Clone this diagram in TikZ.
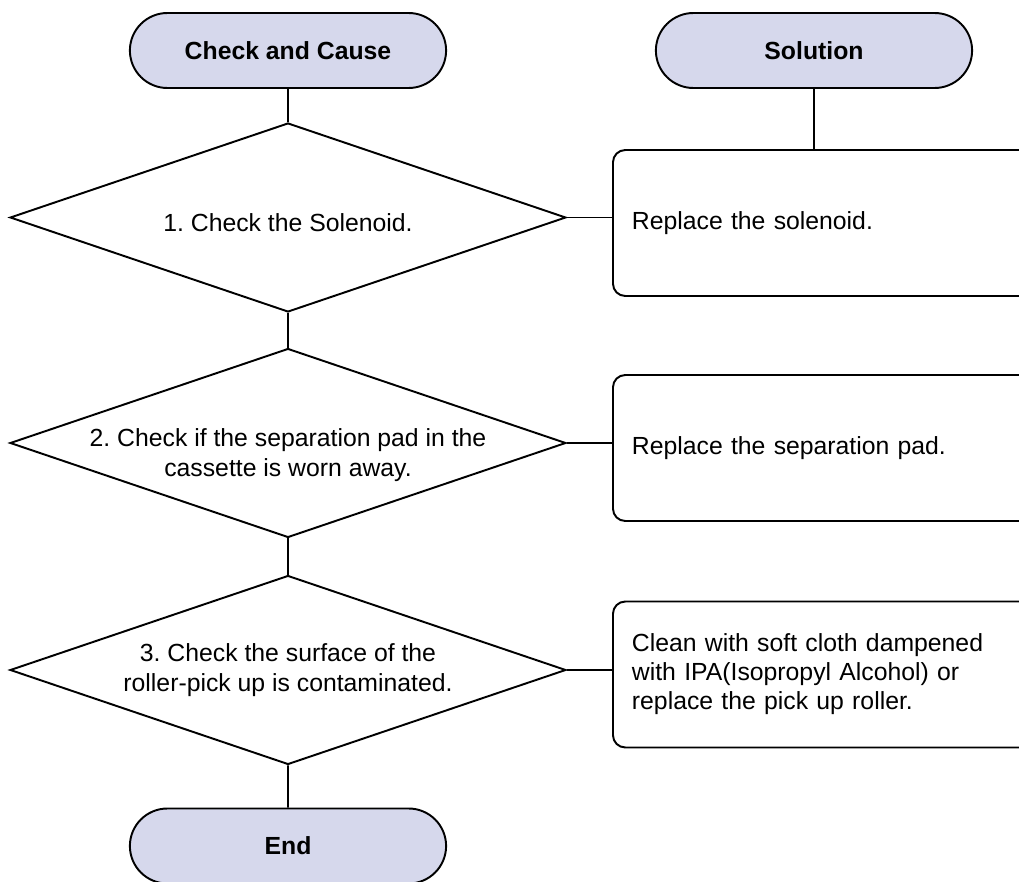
\documentclass[tikz,border=0pt]{standalone}
\usepackage{fontspec}
\setmainfont{Liberation Sans}
\usetikzlibrary{positioning,shapes.geometric,shapes.misc}
\definecolor{termfill}{HTML}{D6D8EC}

\begin{document}
\begin{tikzpicture}[x=0.02cm,y=-0.02cm,line width=1.1pt,every node/.style={font=\fontsize{14.1}{17}\selectfont\frenchspacing},terminal/.style={rounded rectangle,draw,fill=termfill,minimum width=6.56cm,minimum height=1.5cm,font=\fontsize{14.1}{17}\selectfont\bfseries},check/.style={diamond,draw,inner sep=0pt,aspect=2.942,minimum width=11.12cm,minimum height=3.78cm},checktext/.style={align=center,inner sep=0pt},fix/.style={rectangle,rounded corners=7pt,draw,anchor=west,minimum height=2.92cm,text width=7.8cm,inner xsep=0.38cm,align=left,font=\fontsize{14.1}{16.5}\selectfont\frenchspacing}]
  \clip (0,0) rectangle (1019,882);
  \node[terminal] (cause) at (288,50.5) {Check and Cause};
  \node[terminal] (solution) at (814,50.5) {Solution};
  \node[check,label={[checktext,yshift=-0.1cm]center:1. Check the Solenoid.}] (solenoid) at (288,217.5) {};
  \node[check,label={[checktext,yshift=-0.24cm]center:{2. Check if the separation pad in the\\cassette is worn away.}}] (pad) at (288,443) {};
  \node[check,label={[checktext]center:{3. Check the surface of the\\roller-pick up is contaminated.}}] (roller) at (288,670) {};
  \node[terminal] (finish) at (288,846) {End};
  \node[fix] (fixsolenoid) at (612,223) {Replace the solenoid.};
  \node[fix] (fixpad) at (612,448) {Replace the separation pad.};
  \node[fix] (fixroller) at (612,674.5) {Clean with soft cloth dampened\\with IPA(Isopropyl Alcohol) or\\replace the pick up roller.};
  \draw (cause) -- (solenoid);
  \draw (solenoid) -- (pad);
  \draw (pad) -- (roller);
  \draw (roller) -- (finish);
  \draw (solution) -- (solution |- fixsolenoid.north);
  \draw (solenoid.east) -- (solenoid.east -| fixsolenoid.west);
  \draw (pad.east) -- (pad.east -| fixpad.west);
  \draw (roller.east) -- (roller.east -| fixroller.west);
\end{tikzpicture}
\end{document}
